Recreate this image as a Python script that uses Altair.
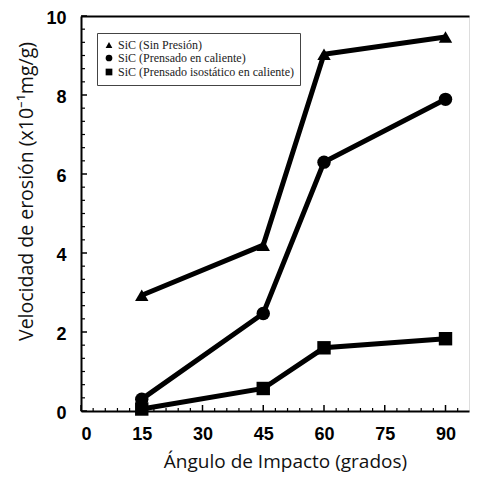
import altair as alt
import pandas as pd

angles = [15, 45, 60, 90]
sin_presion = [2.93, 4.2, 9.03, 9.47]
prensado = [0.3, 2.47, 6.3, 7.89]
isostatico = [0.05, 0.57, 1.6, 1.83]
series_names = ["SiC (Sin Presión)", "SiC (Prensado en caliente)",
                "SiC (Prensado isostático en caliente)"]
shapes = ["triangle-up", "circle", "square"]

x_major = [0, 15, 30, 45, 60, 75, 90]
x_minor = [v for v in range(0, 96, 3) if v % 15 != 0]
y_major = [0, 2, 4, 6, 8, 10]
y_minor = [i / 3 for i in range(0, 31) if i % 6 != 0]

rows = []
for name, vals in zip(series_names, [sin_presion, prensado, isostatico]):
    for a, v in zip(angles, vals):
        rows.append({"serie": name, "angulo": a, "vel": v})
df = pd.DataFrame(rows)

W, H = 388, 395
xs = alt.Scale(domain=[0, 95.8], nice=False, zero=False)
ys = alt.Scale(domain=[0, 10], nice=False)

x_axis = alt.Axis(values=x_major, ticks=False, labelPadding=14,
                  labelFont="Liberation Sans", labelFontWeight="bold",
                  labelFontSize=18, labelColor="black", grid=False,
                  domainColor="black", domainWidth=2,
                  title="Ángulo de Impacto (grados)", titleFont="Open Sans",
                  titleFontSize=19, titleFontWeight="normal", titleColor="#111",
                  titleX=204, titleY=50, titleBaseline="middle",
                  titleAnchor="start", titleAlign="center")
y_axis = alt.Axis(values=y_major, ticks=False, labelPadding=15, labelOffset=2,
                  labelFont="Liberation Sans", labelFontWeight="bold",
                  labelFontSize=18, labelColor="black", grid=False,
                  domainColor="black", domainWidth=2,
                  title="Velocidad de erosión (x10⁻¹mg/g)", titleFont="Open Sans",
                  titleFontSize=19.5, titleFontWeight="normal", titleColor="#111",
                  titleX=-55, titleY=175, titleBaseline="middle",
                  titleAlign="center", titleAngle=-90)

lines = alt.Chart(df).mark_line(color="black", strokeWidth=5).encode(
    x=alt.X("angulo:Q", scale=xs, axis=x_axis),
    y=alt.Y("vel:Q", scale=ys, axis=y_axis),
    detail="serie:N",
)

points = alt.Chart(df).mark_point(filled=True, color="black", opacity=1, size=180).encode(
    x=alt.X("angulo:Q", scale=xs,
            axis=alt.Axis(orient="top", labels=False, ticks=False, title=None,
                          grid=False, domainColor="black", domainWidth=2)),
    y=alt.Y("vel:Q", scale=ys),
    shape=alt.Shape("serie:N", scale=alt.Scale(domain=series_names, range=shapes),
                    legend=alt.Legend(title=None, orient="none", legendX=16,
                                      legendY=17, strokeColor="#444",
                                      padding=6, labelFont="Liberation Serif",
                                      labelFontSize=12, labelColor="#222",
                                      labelLimit=400,
                                      symbolSize=45, symbolFillColor="black",
                                      symbolStrokeColor="black", rowPadding=0,
                                      labelOffset=3, fillColor="white")),
)

xmaj = alt.Chart(pd.DataFrame({"t": x_major})).mark_rule(color="black", strokeWidth=1.5).encode(
    x=alt.X("t:Q", scale=xs, axis=None), y=alt.value(H), y2=alt.value(H - 6))
xmin = alt.Chart(pd.DataFrame({"t": x_minor})).mark_rule(color="black", strokeWidth=1.2).encode(
    x=alt.X("t:Q", scale=xs, axis=None), y=alt.value(H), y2=alt.value(H - 3))
ymaj = alt.Chart(pd.DataFrame({"vel": y_major})).mark_rule(color="black", strokeWidth=1.5).encode(
    y=alt.Y("vel:Q", scale=ys), x=alt.value(0), x2=alt.value(6))
ymin = alt.Chart(pd.DataFrame({"vel": y_minor})).mark_rule(color="black", strokeWidth=1.2).encode(
    y=alt.Y("vel:Q", scale=ys), x=alt.value(0), x2=alt.value(4))

chart = alt.layer(lines, points, xmin, xmaj, ymin, ymaj).resolve_axis(
    x="independent", y="shared"
).properties(
    width=W, height=H,
    autosize=alt.AutoSizeParams(type="none"),
    padding={"left": 73, "top": 8, "right": 1, "bottom": 65},
).configure_view(stroke=None).configure(background="white")

chart.save("out.html", embed_options={"renderer": "svg", "actions": False})
